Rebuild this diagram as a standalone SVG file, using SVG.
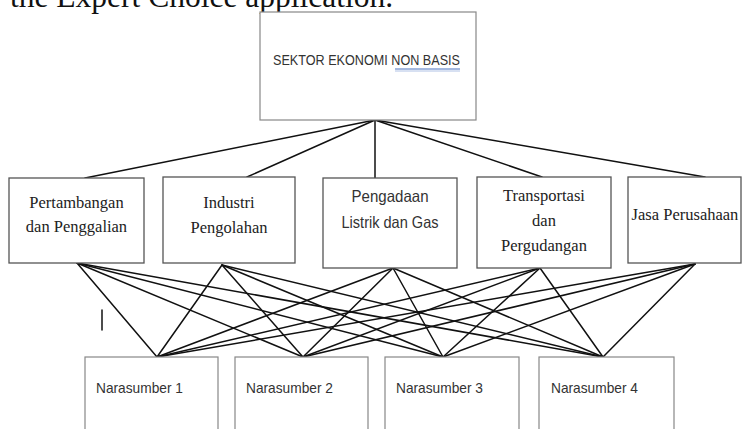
<svg xmlns="http://www.w3.org/2000/svg" width="750" height="429" viewBox="0 0 750 429">
<style>
.bg{fill:#fff}
.box{fill:#fff;stroke:#555;stroke-width:1.3}
.topbox{fill:#fff;stroke:#888;stroke-width:1.2}
.nbox{fill:#fff;stroke:#888;stroke-width:1.2}
.serif{font-family:"Liberation Serif","Times New Roman",serif;fill:#222;text-anchor:middle}
.sans{font-family:"Liberation Sans",Arial,sans-serif;fill:#333}
.conn line{stroke:#111;stroke-width:1.5;stroke-linecap:round}
</style>
<rect class="bg" x="0" y="0" width="750" height="429"/>
<text x="10" y="7" font-family="Liberation Serif, Times New Roman, serif" font-size="31.5" fill="#111">the Expert Choice application.</text>

<g class="conn" id="connectors">
  <line x1="375" y1="120" x2="85" y2="178"/>
  <line x1="375" y1="120" x2="247" y2="177"/>
  <line x1="375" y1="120" x2="375" y2="178"/>
  <line x1="375" y1="120" x2="542" y2="177"/>
  <line x1="375" y1="120" x2="705" y2="177"/>

  <line x1="77" y1="263" x2="157" y2="357"/>
  <line x1="77" y1="263" x2="303" y2="357"/>
  <line x1="77" y1="263" x2="443" y2="357"/>
  <line x1="77" y1="263" x2="603" y2="357"/>

  <line x1="222" y1="265" x2="157" y2="357"/>
  <line x1="222" y1="265" x2="303" y2="357"/>
  <line x1="222" y1="265" x2="443" y2="357"/>
  <line x1="222" y1="265" x2="603" y2="357"/>

  <line x1="393" y1="268" x2="157" y2="357"/>
  <line x1="393" y1="268" x2="303" y2="357"/>
  <line x1="393" y1="268" x2="443" y2="357"/>
  <line x1="393" y1="268" x2="603" y2="357"/>

  <line x1="540" y1="268" x2="157" y2="357"/>
  <line x1="540" y1="268" x2="303" y2="357"/>
  <line x1="540" y1="268" x2="443" y2="357"/>
  <line x1="540" y1="268" x2="603" y2="357"/>

  <line x1="695" y1="264" x2="157" y2="357"/>
  <line x1="695" y1="264" x2="303" y2="357"/>
  <line x1="695" y1="264" x2="443" y2="357"/>
  <line x1="695" y1="264" x2="603" y2="357"/>

  <line x1="102" y1="310" x2="102" y2="330"/>
</g>

<g id="sektor">
  <rect class="topbox" x="260" y="12" width="216" height="108"/>
  <text class="sans" x="273" y="65" font-size="15" textLength="187" lengthAdjust="spacingAndGlyphs">SEKTOR EKONOMI NON BASIS</text>
  <line x1="395" y1="69" x2="460" y2="69" stroke="#4a72c0" stroke-width="1"/>
  <line x1="395" y1="71" x2="460" y2="71" stroke="#9db3de" stroke-width="0.8"/>
</g>

<g id="pertambangan">
  <rect class="box" x="9" y="178" width="135" height="85"/>
  <text class="serif" x="76.5" y="208" font-size="16.5">Pertambangan</text>
  <text class="serif" x="76.5" y="232" font-size="16.5">dan Penggalian</text>
</g>

<g id="industri">
  <rect class="box" x="163" y="177" width="132" height="86"/>
  <text class="serif" x="229" y="208" font-size="16.5">Industri</text>
  <text class="serif" x="229" y="233" font-size="16.5">Pengolahan</text>
</g>

<g id="pengadaan">
  <rect class="box" x="323" y="178" width="134" height="90"/>
  <text class="sans" x="390" y="202" font-size="16.5" text-anchor="middle" textLength="77" lengthAdjust="spacingAndGlyphs">Pengadaan</text>
  <text class="sans" x="390" y="228" font-size="16.5" text-anchor="middle" textLength="97" lengthAdjust="spacingAndGlyphs">Listrik dan Gas</text>
</g>

<g id="transportasi">
  <rect class="box" x="477" y="177" width="134" height="91"/>
  <text class="serif" x="544" y="201" font-size="16.5">Transportasi</text>
  <text class="serif" x="544" y="226" font-size="16.5">dan</text>
  <text class="serif" x="544" y="251" font-size="16.5">Pergudangan</text>
</g>

<g id="jasa">
  <rect class="box" x="628" y="177" width="113" height="86"/>
  <text class="serif" x="685" y="220" font-size="16.5">Jasa Perusahaan</text>
</g>

<g id="narasumber1">
  <rect class="nbox" x="85" y="357" width="133" height="90"/>
  <text class="sans" x="96" y="393" font-size="15" textLength="87" lengthAdjust="spacingAndGlyphs">Narasumber 1</text>
</g>
<g id="narasumber2">
  <rect class="nbox" x="235" y="357" width="133" height="90"/>
  <text class="sans" x="246" y="393" font-size="15" textLength="87" lengthAdjust="spacingAndGlyphs">Narasumber 2</text>
</g>
<g id="narasumber3">
  <rect class="nbox" x="385" y="357" width="134" height="90"/>
  <text class="sans" x="396" y="393" font-size="15" textLength="87" lengthAdjust="spacingAndGlyphs">Narasumber 3</text>
</g>
<g id="narasumber4">
  <rect class="nbox" x="539" y="357" width="135" height="90"/>
  <text class="sans" x="551" y="393" font-size="15" textLength="87" lengthAdjust="spacingAndGlyphs">Narasumber 4</text>
</g>
</svg>
